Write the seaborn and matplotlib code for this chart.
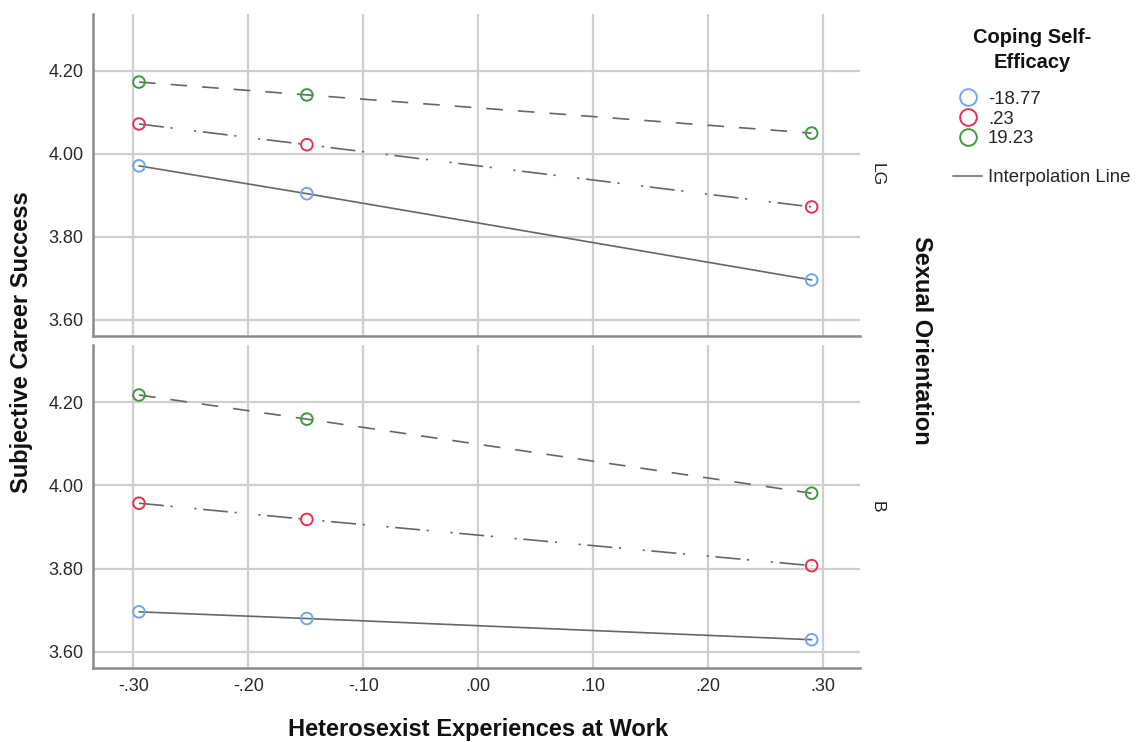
import pandas as pd
import seaborn as sns
import matplotlib.pyplot as plt
from matplotlib.lines import Line2D

# values
x_vals = [-0.295, -0.149, 0.290]
groups = ['-18.77', '.23', '19.23']
panels = ['LG', 'B']
lg_low = [3.971, 3.904, 3.696]
lg_mid = [4.072, 4.022, 3.872]
lg_high = [4.173, 4.142, 4.050]
b_low = [3.696, 3.680, 3.629]
b_mid = [3.957, 3.918, 3.807]
b_high = [4.217, 4.159, 3.981]
x_ticks = [-0.30, -0.20, -0.10, 0.00, 0.10, 0.20, 0.30]
x_ticklabels = ['-.30', '-.20', '-.10', '.00', '.10', '.20', '.30']
y_ticks = [3.60, 3.80, 4.00, 4.20]
y_ticklabels = ['3.60', '3.80', '4.00', '4.20']

rows = []
for panel, series in [('LG', [lg_low, lg_mid, lg_high]), ('B', [b_low, b_mid, b_high])]:
    for g, vals in zip(groups, series):
        for x, y in zip(x_vals, vals):
            rows.append({'panel': panel, 'cse': g, 'x': x, 'y': y})
df = pd.DataFrame(rows)

sns.set_style('white')
plt.rcParams['font.family'] = ['Liberation Sans', 'DejaVu Sans']

colors = {'-18.77': '#6fa6ec', '.23': '#e5334f', '19.23': '#3f9a3f'}
# dash patterns in linewidth units: solid, dot-dash-dot, long dash
dashes = {'-18.77': '', '.23': (15, 4, 1.3, 13, 1.3, 4), '19.23': (10, 9)}

fig = plt.figure(figsize=(11.41, 7.42), dpi=100)
ax_top = fig.add_axes([0.0815, 0.5472, 0.6722, 0.4339])
ax_bot = fig.add_axes([0.0815, 0.0997, 0.6722, 0.4353])

for ax, panel in [(ax_top, 'LG'), (ax_bot, 'B')]:
    sub = df[df['panel'] == panel]
    sns.lineplot(data=sub, x='x', y='y', style='cse', dashes=dashes, color='#666666',
                 linewidth=1.2, ax=ax, legend=False, zorder=3)
    sns.scatterplot(data=sub, x='x', y='y', hue='cse', palette=colors, ax=ax,
                    s=70, linewidth=1.4, legend=False, zorder=4)
    ax.set_xlim(-0.335, 0.332)
    ax.set_ylim(3.561, 4.337)
    ax.set_xticks(x_ticks)
    ax.set_yticks(y_ticks)
    ax.set_yticklabels(y_ticklabels)
    ax.grid(True, color='#cfcfcf', linewidth=1.6)
    ax.set_axisbelow(True)
    for s in ['top', 'right']:
        ax.spines[s].set_visible(False)
    for s in ['left', 'bottom']:
        ax.spines[s].set_color('#8a8a8a')
        ax.spines[s].set_linewidth(1.8)
    ax.tick_params(length=0, labelsize=13, colors='#2a2a2a', pad=7)
    ax.set_xlabel('')
    ax.set_ylabel('')
    ax.text(1.012, 0.5, panel, transform=ax.transAxes, rotation=-90,
            ha='left', va='center', fontsize=12.5, color='#222222')

# scatterplot fills the markers from hue; make them hollow rings
for ax in (ax_top, ax_bot):
    for coll in ax.collections:
        coll.set_edgecolors(coll.get_facecolors())
        coll.set_facecolors('none')

ax_top.set_xticklabels([])
ax_bot.set_xticklabels(x_ticklabels)

fig.text(0.4188, 0.0175, 'Heterosexist Experiences at Work', ha='center', va='center',
         fontsize=17, fontweight='bold', color='#111111')
fig.text(0.019, 0.539, 'Subjective Career Success', ha='center', va='center',
         rotation=90, fontsize=17, fontweight='bold', color='#111111')
fig.text(0.808, 0.541, 'Sexual Orientation', ha='center', va='center',
         rotation=-90, fontsize=17, fontweight='bold', color='#111111')

fig.text(0.9045, 0.933, 'Coping Self-\nEfficacy', ha='center', va='center',
         fontsize=14.5, fontweight='bold', linespacing=1.4, color='#111111')

handles = [Line2D([], [], marker='o', linestyle='none', markerfacecolor='none',
                  markeredgecolor=colors[g], markersize=12, markeredgewidth=1.4)
           for g in groups]
handles.append(Line2D([], [], linestyle='none'))
handles.append(Line2D([], [], color='#8a8a8a', linewidth=1.5))
labels = groups + ['', 'Interpolation Line']
leg = fig.legend(handles, labels, loc='upper left',
                 bbox_to_anchor=(0.8235, 0.895), frameon=False, fontsize=13.4,
                 handlelength=1.6, handletextpad=0.3, labelspacing=0.14,
                 borderpad=0.2)

fig.savefig('out.png', dpi=100)
